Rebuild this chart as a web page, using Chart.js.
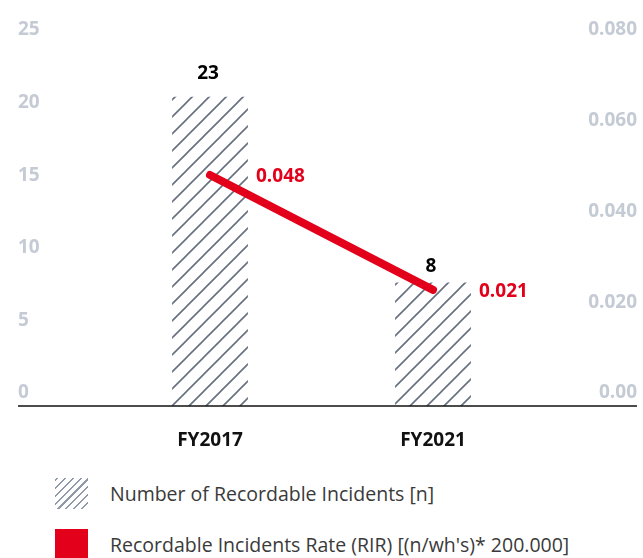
<!DOCTYPE html>
<html lang="en">
<head>
    <meta charset="UTF-8">
    <title>Recordable Incidents</title>
    <script src="https://cdn.jsdelivr.net/npm/chart.js"></script>
    <style>
        body {
            margin: 0;
            background: #ffffff;
            font-family: "Open Sans", sans-serif;
        }
        .wrap {
            position: relative;
            width: 643px;
            height: 558px;
            overflow: hidden;
        }
        .chart-box {
            position: absolute;
            left: 0;
            top: 0;
            width: 643px;
            height: 470px;
        }
        .legend-item {
            position: absolute;
            left: 55px;
            display: flex;
            align-items: center;
            font-size: 19.5px;
            color: #3a3a3a;
            white-space: nowrap;
        }
        .legend-icon {
            width: 33px;
            height: 31px;
            margin-right: 22px;
        }
        .icon-hatch {
            background: repeating-linear-gradient(-45deg, #ffffff 0px, #ffffff 4px, #8f99aa 4px, #8f99aa 5.5px);
        }
        .icon-red {
            background: #e3001b;
        }
    </style>
</head>
<body>
    <div class="wrap">
        <div class="chart-box">
            <canvas id="incidentsChart"></canvas>
        </div>
        <div class="legend-item" style="top: 478px;">
            <div class="legend-icon icon-hatch"></div>
            <span>Number of Recordable Incidents [n]</span>
        </div>
        <div class="legend-item" style="top: 529px;">
            <div class="legend-icon icon-red"></div>
            <span>Recordable Incidents Rate (RIR) [(n/wh's)* 200.000]</span>
        </div>
    </div>

    <script>
        // данные с картинки
        const years = ['FY2017', 'FY2021'];
        // высота столбцов как нарисовано (подписи ниже не совпадают с высотой)
        const incidentBars = [21.3, 8.5];
        const incidentLabels = ['23', '8'];
        const rateLine = [0.0509, 0.0256];
        const rateLabels = ['0.048', '0.021'];
        const leftTicks = [0, 5, 10, 15, 20, 25];
        const rightTicks = [0, 0.02, 0.04, 0.06, 0.08];

        const RED = '#e3001b';
        const TICK_GREY = '#c5cbd5';

        // штриховка для столбцов
        function makeHatch() {
            const s = 17;
            const c = document.createElement('canvas');
            c.width = s;
            c.height = s;
            const g = c.getContext('2d');
            g.fillStyle = '#ffffff';
            g.fillRect(0, 0, s, s);
            g.strokeStyle = '#66707f';
            g.lineWidth = 1.6;
            g.beginPath();
            g.moveTo(-2, s + 2);
            g.lineTo(s + 2, -2);
            g.moveTo(-2, 2);
            g.lineTo(2, -2);
            g.moveTo(s - 2, s + 2);
            g.lineTo(s + 2, s - 2);
            g.stroke();
            return g.createPattern(c, 'repeat');
        }

        // ось снизу на всю ширину + подписи значений
        const extrasPlugin = {
            id: 'extras',
            afterDatasetsDraw(chart) {
                const ctx = chart.ctx;
                const y0 = chart.scales.y.getPixelForValue(0);
                ctx.save();
                ctx.strokeStyle = '#111111';
                ctx.lineWidth = 1.5;
                ctx.beginPath();
                ctx.moveTo(18, y0);
                ctx.lineTo(637, y0);
                ctx.stroke();

                ctx.font = 'bold 19px "Open Sans"';
                ctx.textBaseline = 'middle';

                const bars = chart.getDatasetMeta(1).data;
                ctx.fillStyle = '#000000';
                ctx.textAlign = 'center';
                bars.forEach((bar, i) => {
                    ctx.fillText(incidentLabels[i], bar.x - 2, bar.y - (i === 0 ? 23 : 16));
                });

                const pts = chart.getDatasetMeta(0).data;
                ctx.fillStyle = RED;
                ctx.textAlign = 'left';
                pts.forEach((p, i) => {
                    ctx.fillText(rateLabels[i], p.x + 46, p.y + 2);
                });
                ctx.restore();
            }
        };

        const ctx = document.getElementById('incidentsChart').getContext('2d');

        new Chart(ctx, {
            data: {
                labels: years,
                datasets: [
                    {
                        type: 'line',
                        label: "Recordable Incidents Rate (RIR) [(n/wh's)* 200.000]",
                        data: rateLine,
                        yAxisID: 'y1',
                        borderColor: RED,
                        borderWidth: 8,
                        borderCapStyle: 'round',
                        pointRadius: 0,
                        order: 0
                    },
                    {
                        type: 'bar',
                        label: 'Number of Recordable Incidents [n]',
                        data: incidentBars,
                        yAxisID: 'y',
                        backgroundColor: makeHatch(),
                        borderWidth: 0,
                        categoryPercentage: 1,
                        barPercentage: 0.34,
                        order: 1
                    }
                ]
            },
            options: {
                responsive: true,
                maintainAspectRatio: false,
                animation: false,
                layout: {
                    padding: { left: 18, right: 6, top: 43, bottom: 10 }
                },
                plugins: {
                    legend: { display: false },
                    tooltip: { enabled: false }
                },
                scales: {
                    x: {
                        grid: { display: false },
                        border: { display: false },
                        ticks: {
                            color: '#111111',
                            padding: 15,
                            font: { family: 'Open Sans', size: 19, weight: 'bold' }
                        },
                        afterFit(scale) { scale.height = 54; }
                    },
                    y: {
                        position: 'left',
                        min: 0,
                        max: 25,
                        grid: { display: false },
                        border: { display: false },
                        afterBuildTicks(scale) {
                            scale.ticks = leftTicks.map(v => ({ value: v }));
                        },
                        ticks: {
                            color: TICK_GREY,
                            crossAlign: 'far',
                            labelOffset: -13,
                            padding: 0,
                            font: { family: 'Open Sans', size: 19, weight: 'bold' }
                        },
                        afterFit(scale) { scale.width = 80.5; }
                    },
                    y1: {
                        position: 'right',
                        min: 0,
                        max: 0.08,
                        grid: { display: false },
                        border: { display: false },
                        afterBuildTicks(scale) {
                            scale.ticks = rightTicks.map(v => ({ value: v }));
                        },
                        ticks: {
                            color: TICK_GREY,
                            crossAlign: 'far',
                            labelOffset: -13,
                            padding: 0,
                            font: { family: 'Open Sans', size: 19, weight: 'bold' },
                            callback: v => (v === 0 ? '0.00' : v.toFixed(3))
                        },
                        afterFit(scale) { scale.width = 92.5; }
                    }
                }
            },
            plugins: [extrasPlugin]
        });
    </script>
</body>
</html>
